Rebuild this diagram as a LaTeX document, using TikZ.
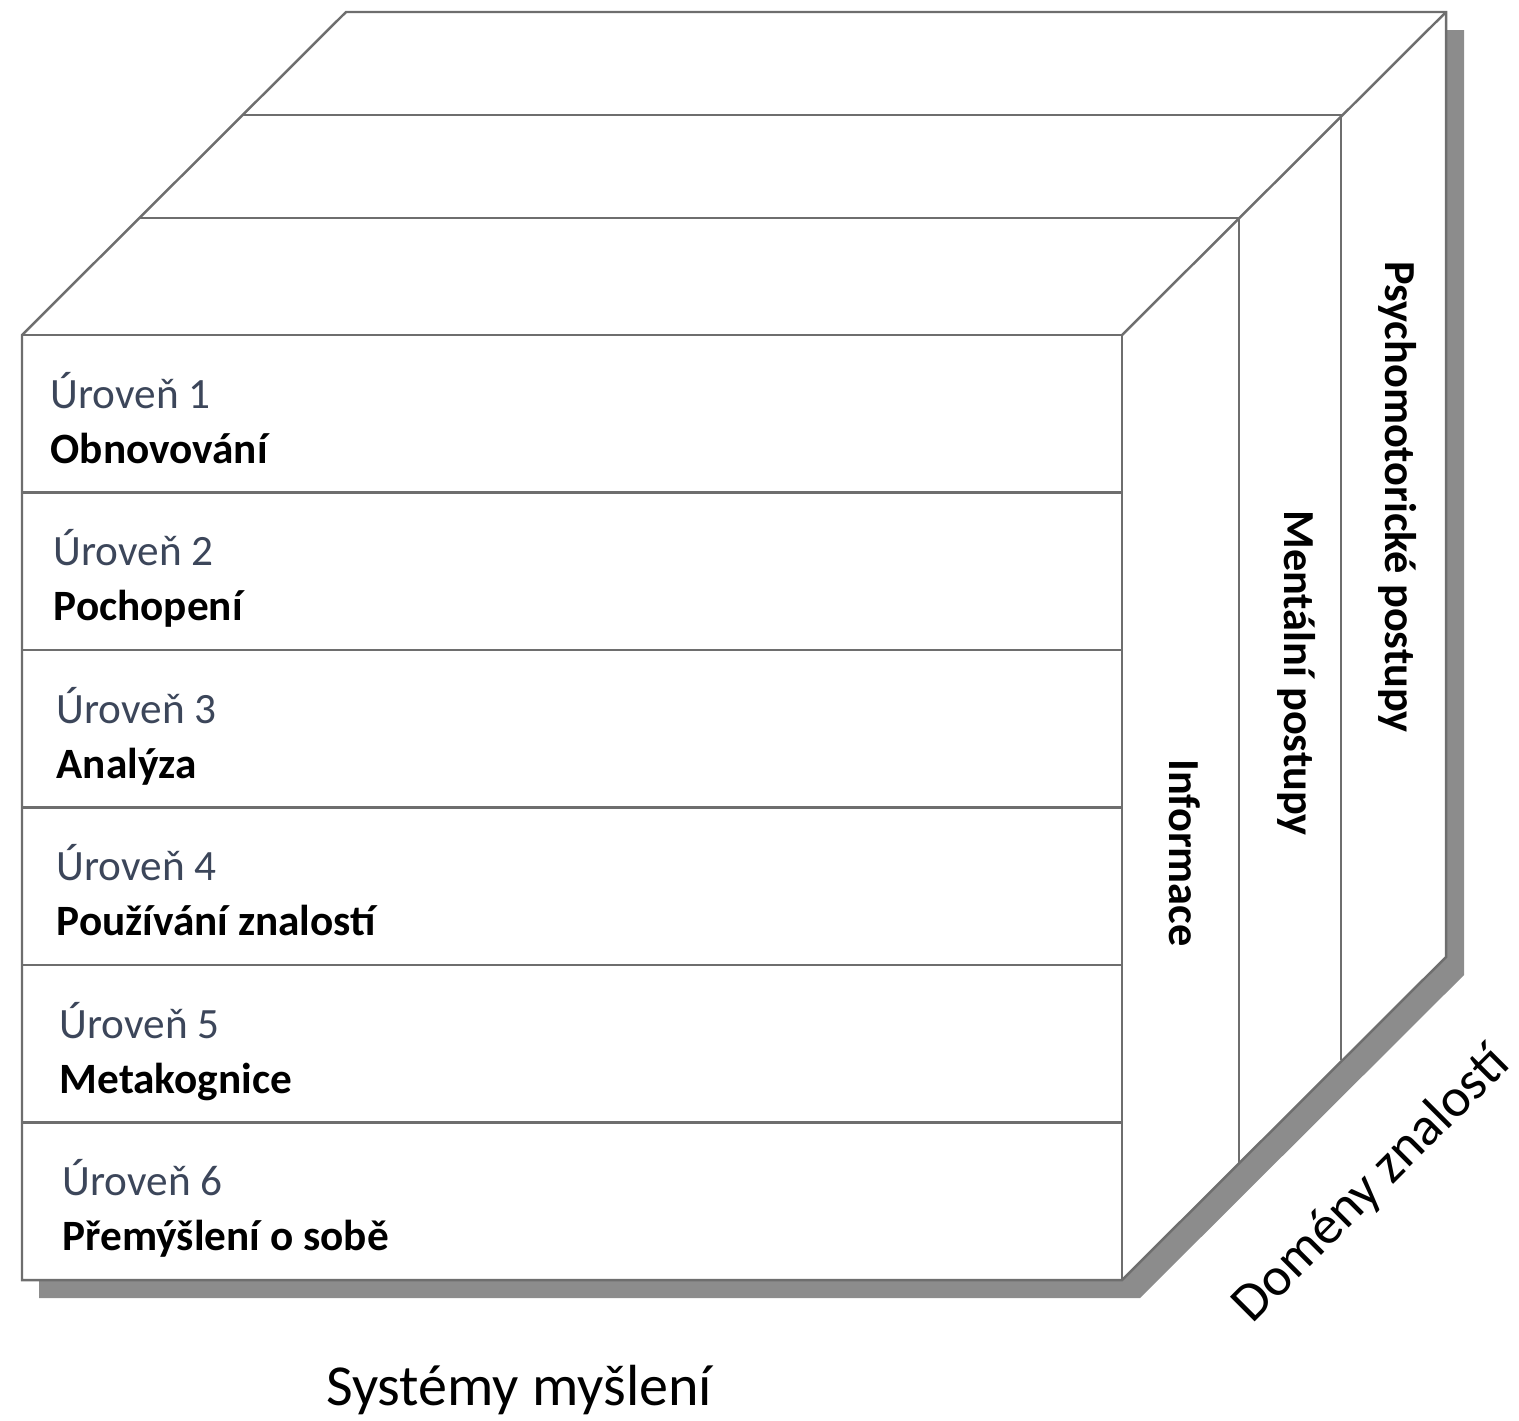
\documentclass[tikz,border=0pt]{standalone}
\usepackage{fontspec}
\setmainfont{Carlito}
\usetikzlibrary{positioning}
\definecolor{levelgray}{HTML}{3C465A}
\definecolor{shadowgray}{HTML}{8C8C8C}
\definecolor{linegray}{HTML}{6E6E6E}

\begin{document}
\begin{tikzpicture}[x=0.01cm,y=-0.01cm,
  cubeline/.style={draw=linegray,line width=0.7pt,line join=miter},
  levelno/.style={anchor=base west,inner sep=0pt,font=\fontsize{12.3}{14}\selectfont,text=levelgray},
  levelname/.style={anchor=base west,inner sep=0pt,font=\fontsize{12.3}{14}\selectfont\bfseries},
  domainlbl/.style={rotate=-90,inner sep=0pt,font=\fontsize{12.6}{14}\selectfont\bfseries}]
\useasboundingbox (0,0) rectangle (1519,1420);
% shadow
\fill[shadowgray] (39,353) -- (364,30) -- (1464,30) -- (1464,975) -- (1140,1298) -- (39,1298) -- cycle;
% cube outline
\filldraw[cubeline,fill=white] (22,335) -- (346,12) -- (1446,12) -- (1446,957) -- (1122,1280) -- (22,1280) -- cycle;
\draw[cubeline] (22,335) -- (1122,335) -- (1122,1280);
\draw[cubeline] (1122,335) -- (1446,12);
% layers of the domains
\draw[cubeline] (140,218) -- (1239,218) -- (1239,1163);
\draw[cubeline] (243,115) -- (1341,115) -- (1341,1060);
% levels
\foreach \y in {492.5,650,807.5,965,1122.5}
  \draw[cubeline] (22,\y) -- (1122,\y);
\foreach \i/\x/\txt in {1/50/Obnovování,2/53/Pochopení,3/56/Analýza,4/56/Používání znalostí,5/59/Metakognice,6/62/Přemýšlení o sobě}{
  \node[levelno] (lvl\i) at (\x,{335+157.5*(\i-1)+73}) {Úroveň \i};
  \node[levelname] (lvlname\i) at (\x,{335+157.5*(\i-1)+128}) {\txt};
}
\node[domainlbl] (info) at (1185,853) {Informace};
\node[domainlbl] (mental) at (1297,673) {Mentální postupy};
\node[domainlbl] (psycho) at (1398,497) {Psychomotorické postupy};
\node[rotate=45,inner sep=0pt,font=\fontsize{15.5}{18}\selectfont] (domeny) at (1372,1185) {Domény znalostí};
\node[anchor=base,inner sep=0pt,font=\fontsize{16.5}{19}\selectfont] (systemy) at (519,1405) {Systémy myšlení};
\end{tikzpicture}
\end{document}
